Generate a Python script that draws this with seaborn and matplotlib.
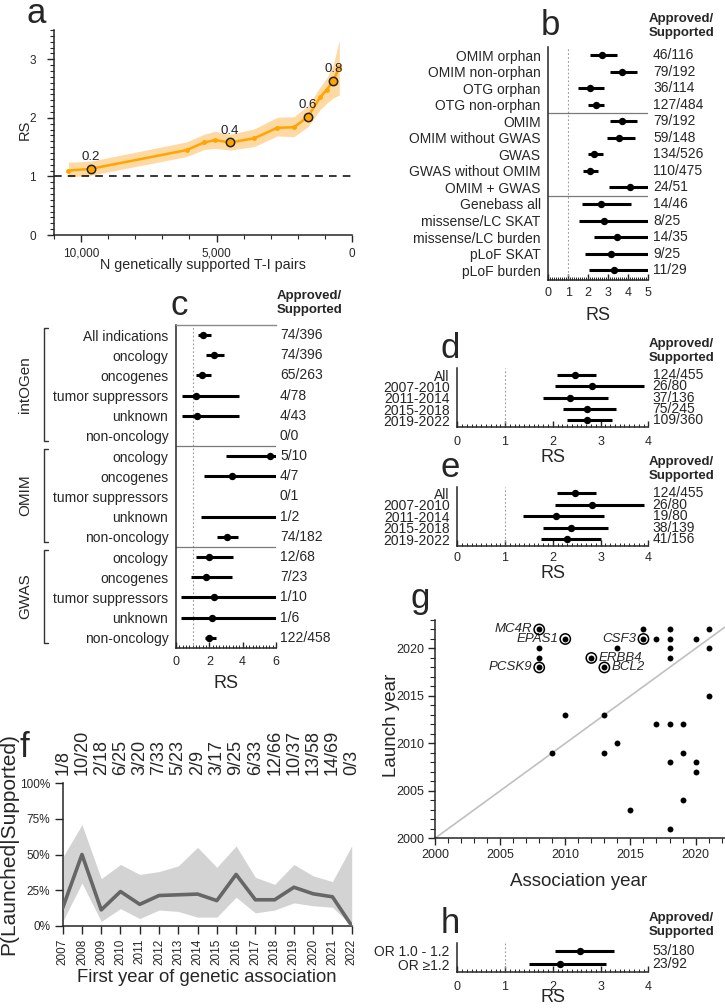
import numpy as np
import pandas as pd
import matplotlib
matplotlib.use("Agg")
from matplotlib import pyplot as plt
from matplotlib import transforms as mtransforms
from matplotlib.ticker import MultipleLocator, FuncFormatter
import seaborn as sns


# a: RS along the ranking of genetically supported T-I pairs
a_pairs = [10468, 9643, 6100, 5461, 5055, 4502, 3616, 2756, 2140, 1624, 1181, 934, 690, 469]
a_rs = [1.10, 1.13, 1.45, 1.58, 1.62, 1.58, 1.65, 1.83, 1.84, 2.02, 2.35, 2.48, 2.63, 2.87]
a_lo = [0.99, 1.02, 1.34, 1.46, 1.48, 1.45, 1.51, 1.69, 1.68, 1.85, 2.14, 2.25, 2.34, 2.39]
a_hi = [1.24, 1.26, 1.59, 1.72, 1.77, 1.72, 1.81, 2.01, 2.02, 2.21, 2.52, 2.68, 2.91, 3.33]
a_mark_pairs = [9643, 4502, 1624, 690]
a_mark_rs = [1.13, 1.58, 2.02, 2.63]
a_mark_labels = ["0.2", "0.4", "0.6", "0.8"]

# b
b_labels = ["OMIM orphan", "OMIM non-orphan", "OTG orphan", "OTG non-orphan", "OMIM",
            "OMIM without GWAS", "GWAS", "GWAS without OMIM", "OMIM + GWAS", "Genebass all",
            "missense/LC SKAT", "missense/LC burden", "pLoF SKAT", "pLoF burden"]
b_rs = [2.67, 3.70, 2.08, 2.37, 3.70, 3.53, 2.30, 2.08, 4.08, 2.62, 2.78, 3.45, 3.12, 3.28]
b_lo = [2.08, 3.08, 1.50, 2.00, 3.08, 2.92, 1.97, 1.72, 3.05, 1.70, 1.55, 2.30, 1.83, 2.05]
b_hi = [3.42, 4.42, 2.78, 2.80, 4.42, 4.33, 2.72, 2.50, 5.00, 4.12, 5.00, 5.00, 5.00, 5.00]
b_counts = ["46/116", "79/192", "36/114", "127/484", "79/192", "59/148", "134/526", "110/475",
            "24/51", "14/46", "8/25", "14/35", "9/25", "11/29"]

# c
nan = np.nan
c_groups = ["intOGen", "OMIM", "GWAS"]
c_group_sizes = [6, 5, 5]
c_labels = ["All indications", "oncology", "oncogenes", "tumor suppressors", "unknown", "non-oncology",
            "oncology", "oncogenes", "tumor suppressors", "unknown", "non-oncology",
            "oncology", "oncogenes", "tumor suppressors", "unknown", "non-oncology"]
c_rs = [1.64, 2.28, 1.58, 1.18, 1.24, nan, 5.64, 3.34, nan, nan, 3.04, 2.00, 1.78, 2.30, 2.18, 2.00]
c_lo = [1.34, 1.78, 1.18, 0.34, 0.38, nan, 3.00, 1.68, nan, 1.48, 2.48, 1.18, 0.90, 0.30, 0.30, 1.74]
c_hi = [2.08, 2.88, 2.12, 3.78, 3.80, nan, 6.00, 6.00, nan, 6.00, 3.74, 3.40, 3.38, 6.00, 6.00, 2.40]
c_counts = ["74/396", "74/396", "65/263", "4/78", "4/43", "0/0", "5/10", "4/7", "0/1", "1/2",
            "74/182", "12/68", "7/23", "1/10", "1/6", "122/458"]

# d, e
de_labels = ["All", "2007-2010", "2011-2014", "2015-2018", "2019-2022"]
d_rs = [2.46, 2.83, 2.37, 2.71, 2.72]
d_lo = [2.09, 2.05, 1.79, 2.22, 2.30]
d_hi = [2.90, 3.90, 3.15, 3.32, 3.23]
d_counts = ["124/455", "26/80", "37/136", "75/245", "109/360"]
e_rs = [2.46, 2.83, 2.06, 2.38, 2.29]
e_lo = [2.09, 2.05, 1.37, 1.80, 1.75]
e_hi = [2.90, 3.90, 3.07, 3.16, 3.00]
e_counts = ["124/455", "26/80", "19/80", "38/139", "41/156"]

# f
f_years = [2007, 2008, 2009, 2010, 2011, 2012, 2013, 2014, 2015, 2016, 2017, 2018, 2019, 2020, 2021, 2022]
f_p = [0.125, 0.50, 0.111, 0.24, 0.15, 0.212, 0.217, 0.222, 0.176, 0.36, 0.182, 0.182, 0.27, 0.224, 0.203, 0.0]
f_lo = [0.03, 0.30, 0.03, 0.12, 0.05, 0.11, 0.10, 0.06, 0.06, 0.20, 0.09, 0.11, 0.16, 0.14, 0.13, 0.0]
f_hi = [0.48, 0.71, 0.33, 0.43, 0.36, 0.38, 0.42, 0.55, 0.41, 0.56, 0.34, 0.29, 0.43, 0.35, 0.31, 0.56]
f_counts = ["1/8", "10/20", "2/18", "6/25", "3/20", "7/33", "5/23", "2/9", "3/17", "9/25", "6/33",
            "12/66", "10/37", "13/58", "14/69", "0/3"]

# g
g_assoc = [2008, 2008, 2008, 2008, 2010, 2012, 2013, 2016, 2016, 2017, 2014, 2018, 2018, 2018, 2018,
           2020, 2021, 2021, 2021, 2010, 2013, 2009, 2013, 2014, 2017, 2018, 2019, 2019, 2018, 2020,
           2020, 2019, 2015, 2018]
g_launch = [2022, 2020, 2019, 2018, 2021, 2019, 2018, 2021, 2022, 2021, 2020, 2022, 2021, 2020, 2019,
            2021, 2022, 2020, 2015, 2013, 2013, 2009, 2009, 2010, 2012, 2012, 2012, 2009, 2008, 2008,
            2007, 2004, 2003, 2001]
g_genes = ["MC4R", "EPAS1", "PCSK9", "CSF3", "ERBB4", "BCL2"]
g_gene_assoc = [2008, 2010, 2008, 2016, 2012, 2013]
g_gene_launch = [2022, 2021, 2018, 2021, 2019, 2018]

# h
h_labels = ["OR 1.0 - 1.2", "OR \u22651.2"]
h_rs = [2.58, 2.16]
h_lo = [2.05, 1.51]
h_hi = [3.28, 3.11]
h_counts = ["53/180", "23/92"]


sns.set_style("ticks")
plt.rcParams["font.family"] = ["Liberation Sans", "DejaVu Sans"]
plt.rcParams["axes.linewidth"] = 1.1

W, H = 725, 1008
fig = plt.figure(figsize=(W / 100, H / 100), dpi=100)


def box(l, t, r, b):
    return fig.add_axes([l / W, 1 - b / H, (r - l) / W, (b - t) / H])


def ftext(x, y, s, **kw):
    fig.text(x / W, 1 - y / H, s, **kw)


def letter(x, y, s):
    ftext(x, y, s, fontsize=25, ha="left", va="baseline")


def header(x, y):
    ftext(x, y, "Approved/\nSupported", fontsize=9.5, fontweight="bold",
          ha="left", va="center", linespacing=1.15)


def forest(l, t, r, b, labels, est, lo, hi, counts, xmax, major, minor, ylim,
           count_x, xpad, seps=(), top_line=False):
    ax = box(l, t, r, b)
    df = pd.DataFrame({"row": np.arange(len(labels)), "est": est, "lo": lo, "hi": hi})
    ci = df.dropna(subset=["lo"])
    ax.hlines(ci["row"], ci["lo"], ci["hi"], color="black", lw=2.2, zorder=3)
    sns.scatterplot(data=df.dropna(subset=["est"]), x="est", y="row", ax=ax,
                    color="black", s=28, linewidth=0, zorder=4, legend=False)
    ax.axvline(1, color="#9a9a9a", lw=0.8, ls=(0, (1.5, 2)), zorder=1)
    for s in seps:
        ax.axhline(s, color="#7a7a7a", lw=0.9, zorder=2)
    ax.set_xlim(0, xmax)
    ax.set_ylim(*ylim)
    ax.set_yticks(df["row"])
    ax.set_yticklabels(labels)
    ax.set_xlabel("")
    ax.set_ylabel("")
    ax.xaxis.set_major_locator(MultipleLocator(major))
    ax.xaxis.set_minor_locator(MultipleLocator(minor))
    ax.tick_params(axis="y", length=0, pad=5.5, labelsize=10)
    ax.tick_params(axis="x", which="major", direction="in", length=4, width=1.0,
                   labelsize=9, pad=xpad)
    ax.tick_params(axis="x", which="minor", direction="in", length=2.5, width=0.7)
    sns.despine(ax=ax, top=not top_line, right=True)
    if top_line:
        ax.spines["top"].set_color("#8a8a8a")
        ax.spines["top"].set_linewidth(1.0)
    tr = mtransforms.blended_transform_factory(ax.transAxes, ax.transData)
    for i, c in enumerate(counts):
        ax.text((count_x - l) / (r - l), i, c, transform=tr, ha="left", va="center", fontsize=10)
    return ax


# ---------------- a
ax = box(54, 30, 352, 235)
orange = "#FFA500"
ax.fill_between(a_pairs, a_lo, a_hi, color="#FFD9A3", lw=0, zorder=1)
sns.lineplot(x=a_pairs, y=a_rs, ax=ax, color=orange, lw=1.8, marker="o", markersize=3.5,
             markeredgewidth=0, zorder=3)
ax.axhline(1, color="black", lw=1.1, ls=(0, (5, 4)), zorder=2)
sns.scatterplot(x=a_mark_pairs, y=a_mark_rs, ax=ax, color=orange, edgecolor="#222222",
                linewidth=1.1, s=36, zorder=4, legend=False)
for xv, yv, lab in zip(a_mark_pairs, a_mark_rs, a_mark_labels):
    ax.annotate(lab, (xv, yv), xytext=(0, 8.5), textcoords="offset points",
                ha="center", va="center", fontsize=9.5, color="#222222")
ax.set_xlim(11000, 0)
ax.set_ylim(0, 3.5)
ax.set_xticks([10000, 5000, 0])
ax.set_xticklabels(["10,000", "5,000", "0"])
ax.xaxis.set_minor_locator(MultipleLocator(1000))
ax.set_yticks([0, 1, 2, 3])
ax.yaxis.set_minor_locator(MultipleLocator(0.1))
ax.tick_params(which="major", length=5, width=1.0, labelsize=8.5)
ax.tick_params(which="minor", length=3, width=0.8)
ax.tick_params(axis="y", pad=8)
ax.tick_params(axis="x", pad=4)
sns.despine(ax=ax)
ftext(25, 130, "RS", rotation=90, fontsize=10.5, ha="center", va="center")
ftext(203, 265, "N genetically supported T-I pairs", fontsize=10.3, ha="center", va="center")
letter(27, 23, "a")

# ---------------- b
forest(548.3, 47, 648.3, 280, b_labels, b_rs, b_lo, b_hi, b_counts, 5, 1, 0.1,
       (13.6, -0.5), 653, 5, seps=(3.5, 8.5))
ftext(598.3, 316, "RS", fontsize=13, ha="center", va="center")
letter(541, 35, "b")
header(649, 26)

# ---------------- c
axc = forest(176, 325, 276, 647.8, c_labels, c_rs, c_lo, c_hi, c_counts, 6, 2, 0.2,
             (15.5, -0.5), 280, 6, seps=(5.5, 10.5), top_line=True)
ftext(226, 683, "RS", fontsize=13, ha="center", va="center")
letter(170, 315, "c")
header(277, 303)
trc = mtransforms.blended_transform_factory(fig.transFigure, axc.transData)
start = 0
for name, size in zip(c_groups, c_group_sizes):
    y0, y1 = start - 0.35, start + size - 1 + 0.26
    axc.plot([48 / W, 44 / W, 44 / W, 48 / W], [y0, y0, y1, y1], transform=trc,
             color="#333333", lw=1.0, clip_on=False)
    axc.text(25 / W, (y0 + y1) / 2, name, transform=trc, rotation=90, ha="center",
             va="center", fontsize=11)
    start += size

# ---------------- d
forest(457.3, 368.3, 648.3, 427.3, de_labels, d_rs, d_lo, d_hi, d_counts, 4, 1, 0.1,
       (4.6, -0.6), 652.7, 6.5)
ftext(552.8, 457, "RS", fontsize=13, ha="center", va="center")
letter(441, 358, "d")
header(648.3, 351)

# ---------------- e
forest(457.3, 487.3, 648.3, 546, de_labels, e_rs, e_lo, e_hi, e_counts, 4, 1, 0.1,
       (4.6, -0.5), 652.7, 4)
ftext(552.8, 573, "RS", fontsize=13, ha="center", va="center")
letter(441, 477, "e")
header(648.3, 469)

# ---------------- f
ax = box(62.7, 783.3, 351.7, 925.7)
ax.fill_between(f_years, f_lo, f_hi, color="#d3d3d3", lw=0, zorder=1)
sns.lineplot(x=f_years, y=f_p, ax=ax, color="#666666", lw=2.6, zorder=3)
ax.set_xlim(2007, 2022)
ax.set_ylim(0, 1)
ax.set_xticks(f_years)
ax.set_xticklabels([str(y) for y in f_years], rotation=90, fontsize=8.5)
ax.set_yticks([0, 0.25, 0.5, 0.75, 1.0])
ax.yaxis.set_major_formatter(FuncFormatter(lambda v, p: f"{v * 100:.0f}%"))
ax.tick_params(axis="y", length=6, width=1.0, labelsize=8.5, pad=3)
ax.tick_params(axis="x", length=6, width=1.0, pad=3.5)
sns.despine(ax=ax)
trf = mtransforms.blended_transform_factory(ax.transData, ax.transAxes)
for yr, c in zip(f_years, f_counts):
    ax.text(yr, 1.058, c, transform=trf, rotation=90, ha="center", va="bottom", fontsize=13)
ftext(9, 844, "P(Launched|Supported)", rotation=90, fontsize=15, ha="center", va="center")
ftext(207, 978, "First year of genetic association", fontsize=13.3, ha="center", va="center")
letter(20, 757, "f")

# ---------------- g
ax = box(435, 620, 725, 838.3)
ax.axline((2000, 2000), slope=1, color="#c0c0c0", lw=1.2, zorder=1)
sns.scatterplot(x=g_assoc, y=g_launch, ax=ax, color="black", s=18, linewidth=0,
                zorder=3, legend=False)
ax.scatter(g_gene_assoc, g_gene_launch, s=55, facecolors="none", edgecolors="black",
           linewidths=1.1, zorder=4)
right_side = {"ERBB4", "BCL2"}
for gene, xv, yv in zip(g_genes, g_gene_assoc, g_gene_launch):
    on_right = gene in right_side
    ax.annotate(gene, (xv, yv), xytext=(5.5 if on_right else -5, 0), textcoords="offset points",
                ha="left" if on_right else "right", va="center", fontsize=9.5, style="italic")
ax.set_xlim(2000, 2022.26)
ax.set_ylim(2000, 2023)
ax.xaxis.set_major_locator(MultipleLocator(5))
ax.xaxis.set_minor_locator(MultipleLocator(1))
ax.yaxis.set_major_locator(MultipleLocator(5))
ax.yaxis.set_minor_locator(MultipleLocator(1))
ax.tick_params(which="major", length=5, width=1.0, labelsize=9, pad=3)
ax.tick_params(which="minor", length=3.3, width=0.8)
sns.despine(ax=ax)
ftext(579, 882, "Association year", fontsize=13.5, ha="center", va="center")
ftext(392, 725, "Launch year", rotation=90, fontsize=13.5, ha="center", va="center")
letter(411, 608, "g")

# ---------------- h
forest(457.3, 943.3, 648.3, 971.7, h_labels, h_rs, h_lo, h_hi, h_counts, 4, 1, 0.1,
       (1.58, -0.56), 652.7, 6.5)
ftext(552.8, 998, "RS", fontsize=13, ha="center", va="center")
letter(441, 933, "h")
header(649, 925)

fig.savefig("out.png", dpi=100)
